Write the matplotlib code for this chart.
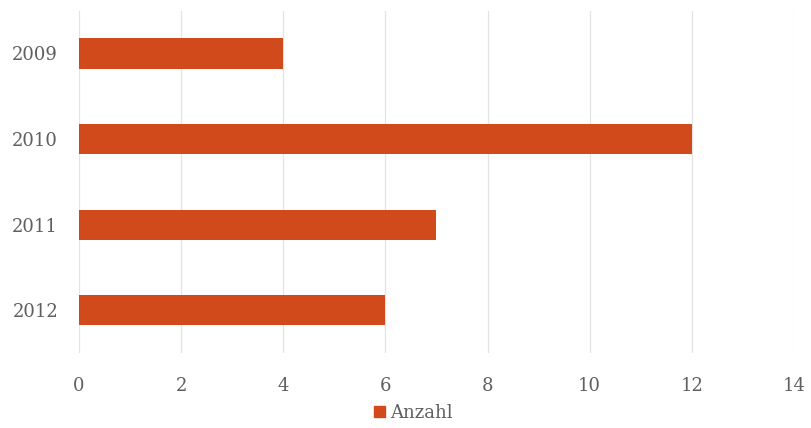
import matplotlib.pyplot as plt
import numpy as np
from matplotlib.patches import Patch

years = ['2009', '2010', '2011', '2012']
anzahl = [4, 12, 7, 6]
xticks = [0, 2, 4, 6, 8, 10, 12, 14]

plt.rcParams['font.family'] = ['DejaVu Serif']

fig = plt.figure(figsize=(8.11, 4.28), dpi=100)
ax = fig.add_axes([0.0974, 0.175, 0.8816, 0.80])

pos = np.arange(len(years))
ax.barh(pos, anzahl, height=0.355, color='#D14A1B', zorder=3)

ax.set_ylim(len(years) - 0.5, -0.5)
ax.set_xlim(0, 14)
ax.set_yticks(pos)
ax.set_yticklabels(years)
ax.set_xticks(xticks)
ax.grid(axis='x', color='#E3E3E3', linewidth=0.9, zorder=0)
for s in ax.spines.values():
    s.set_visible(False)
ax.tick_params(axis='both', length=0, labelsize=13, colors='#5f5f5f')
ax.tick_params(axis='x', pad=17)
ax.tick_params(axis='y', pad=15)

fig.legend(handles=[Patch(color='#D14A1B', label='Anzahl')], loc='center',
           bbox_to_anchor=(0.51, 0.035), frameon=False, fontsize=13,
           handlelength=0.6, handleheight=0.6, handletextpad=0.3,
           labelcolor='#5f5f5f')

fig.savefig('out.png', dpi=100)
